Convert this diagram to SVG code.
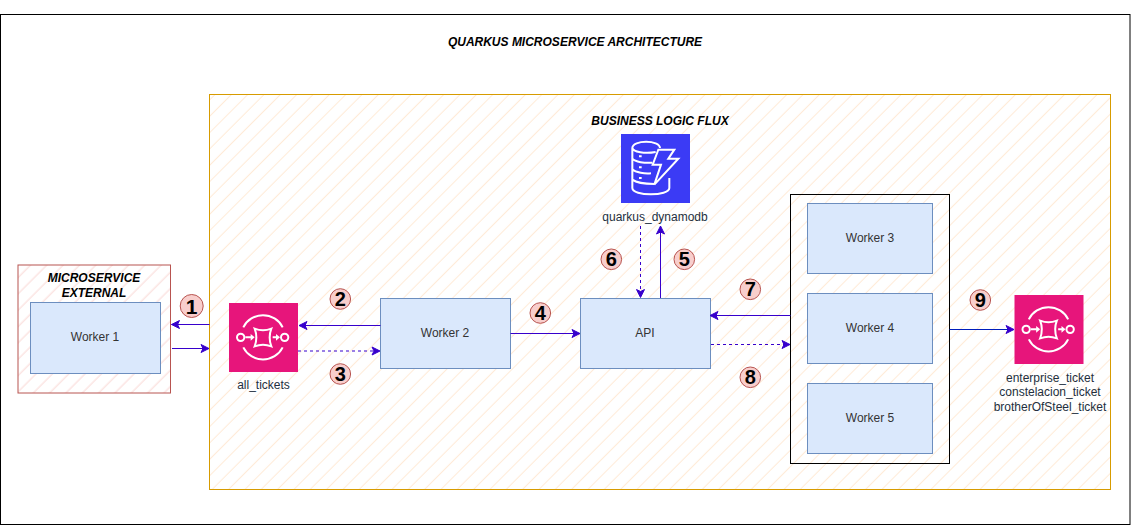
<svg xmlns="http://www.w3.org/2000/svg" width="1131" height="526" viewBox="0 0 1131 526">
<style>
text{font-family:"Liberation Sans",Arial,sans-serif;text-anchor:middle}
.t{font-size:12px;fill:#333}
.aws{font-size:12px;fill:#232f3e}
.h{font-size:12px;font-weight:bold;font-style:italic;fill:#000}
.w{fill:#dae8fc;stroke:#6c8ebf;stroke-width:1}
.c{fill:none;stroke:#3700cc;stroke-width:1;marker-end:url(#a)}
.d{stroke-dasharray:3 3}
.n circle{fill:#f8cecc;stroke:#b85450;stroke-width:1}
.n text{font-size:20px;font-weight:bold;fill:#000}
.i{fill:none;stroke:#fff;stroke-width:6}
</style>
<defs>
<marker id="a" markerUnits="userSpaceOnUse" markerWidth="10" markerHeight="10" refX="9" refY="5" orient="auto"><path d="M1 1L9 5L1 9L3 5Z" fill="#3700cc" stroke="#3700cc" stroke-width="1"/></marker>
<pattern id="hy" width="11.55" height="14" patternUnits="userSpaceOnUse" patternTransform="rotate(45 0 0)"><rect width="11.55" height="14" fill="#fff"/><rect width="1" height="14" x="10.500" fill="#ffead6"/></pattern>
<pattern id="hr" width="11.55" height="14" patternUnits="userSpaceOnUse" patternTransform="rotate(45 0 0)"><rect width="11.55" height="14" fill="#fff"/><rect width="1" height="14" x="0.600" fill="#fad8d6"/></pattern>
<g id="q"><rect width="69" height="69" fill="#e7157b"/>
<g transform="translate(-5 -5) scale(.3333)">
<circle cx="50" cy="118" r="11" class="i"/><circle cx="182" cy="118" r="11" class="i"/>
<path class="i" d="M58 88A66 66 0 0 1 176 88M58 148A66 66 0 0 0 176 148"/>
<path class="i" d="M92 92Q117 102 142 92Q132 118 142 145Q117 135 92 145Q102 118 92 92Z"/>
<path class="i" d="M64 118H82M146 118H158"/><path d="M80 108L92 118L80 128ZM156 108L168 118L156 128Z" fill="#fff"/>
</g></g>
</defs>
<rect width="1131" height="526" fill="#fff"/>
<rect id="frame" x="0.500" y="14.500" width="1129.500" height="510" fill="#fff" stroke="#000"/>
<text class="h" x="575" y="46">QUARKUS MICROSERVICE ARCHITECTURE</text>
<g id="business"><rect x="209.500" y="94.500" width="901" height="395" fill="url(#hy)" stroke="#d79b00"/><text class="h" x="660" y="125">BUSINESS LOGIC FLUX</text></g>
<g id="external"><rect x="18" y="265" width="152.500" height="128" fill="url(#hr)" stroke="#b85450"/><text class="h" x="94" y="282">MICROSERVICE</text><text class="h" x="94" y="297">EXTERNAL</text></g>
<g id="worker1"><rect class="w" x="30.500" y="302.500" width="130" height="71"/><text class="t" x="95" y="341">Worker 1</text></g>
<g id="all_tickets"><use href="#q" x="229" y="303"/><text class="aws" x="263.500" y="389">all_tickets</text></g>
<g id="worker2"><rect class="w" x="380.500" y="298.500" width="130" height="70"/><text class="t" x="445" y="337">Worker 2</text></g>
<g id="api"><rect class="w" x="580.500" y="298.500" width="130" height="70"/><text class="t" x="645" y="337">API</text></g>
<g id="dynamodb"><rect x="621" y="134" width="69" height="69" fill="#3b3bf5"/>
<g transform="translate(615 128) scale(.3333)">
<path class="i" d="M52 60C52 35 135 35 135 60M52 60C54 72 90 78 122 72M52 60V180C52 205 163 205 163 180V150M52 92C60 102 90 106 112 104M52 124C62 134 90 138 108 136M52 155C65 165 90 168 118 168M72 85H80M72 118H80M72 150H80"/>
<path class="i" d="M130 65H178L160 92H190L118 170L138 110H113Z" fill="#3b3bf5"/>
</g>
<text class="aws" x="655" y="221">quarkus_dynamodb</text></g>
<g id="workers"><rect x="790.500" y="194.500" width="159" height="269" fill="none" stroke="#000"/></g>
<g id="worker3"><rect class="w" x="807.500" y="203.500" width="125" height="70"/><text class="t" x="870" y="242">Worker 3</text></g>
<g id="worker4"><rect class="w" x="807.500" y="293.500" width="125" height="70"/><text class="t" x="870" y="332">Worker 4</text></g>
<g id="worker5"><rect class="w" x="807.500" y="383.500" width="125" height="70"/><text class="t" x="870" y="422">Worker 5</text></g>
<g id="topics"><use href="#q" x="1014.500" y="295"/><text class="aws" x="1050" y="382">enterprise_ticket</text><text class="aws" x="1050" y="396">constelacion_ticket</text><text class="aws" x="1050" y="411">brotherOfSteel_ticket</text></g>
<g id="connectors">
<path class="c" d="M209.500 324.500H171.500"/>
<path class="c" d="M172 348.500H209"/>
<path class="c" d="M380.500 325.500H299"/>
<path class="c d" d="M298 351H380"/>
<path class="c" d="M510.500 333.500H580"/>
<path class="c" d="M660.500 298V226"/>
<path class="c d" d="M640.500 226V297.500"/>
<path class="c" d="M790.500 315.500H710"/>
<path class="c d" d="M711 344.500H790"/>
<path class="c" style="stroke:#001dbc" d="M949.500 329.500H1014"/>
</g>
<g id="numbers" class="n">
<g><circle cx="191.700" cy="306" r="11.500"/><text x="191.700" y="313.500" style="font-size:21px">1</text></g>
<g><circle cx="340.300" cy="299" r="10.300"/><text x="340.300" y="306">2</text></g>
<g><circle cx="340.300" cy="374" r="10.300"/><text x="340.300" y="381">3</text></g>
<g><circle cx="540.300" cy="313" r="10.300"/><text x="540.300" y="320">4</text></g>
<g><circle cx="684.300" cy="259.300" r="10.300"/><text x="684.300" y="266.300">5</text></g>
<g><circle cx="611.300" cy="259.300" r="10.300"/><text x="611.300" y="266.300">6</text></g>
<g><circle cx="750.300" cy="289.300" r="10.300"/><text x="750.300" y="296.300">7</text></g>
<g><circle cx="750.300" cy="377.300" r="10.300"/><text x="750.300" y="384.300">8</text></g>
<g><circle cx="980.300" cy="300" r="10.300"/><text x="980.300" y="307">9</text></g>
</g>
</svg>
